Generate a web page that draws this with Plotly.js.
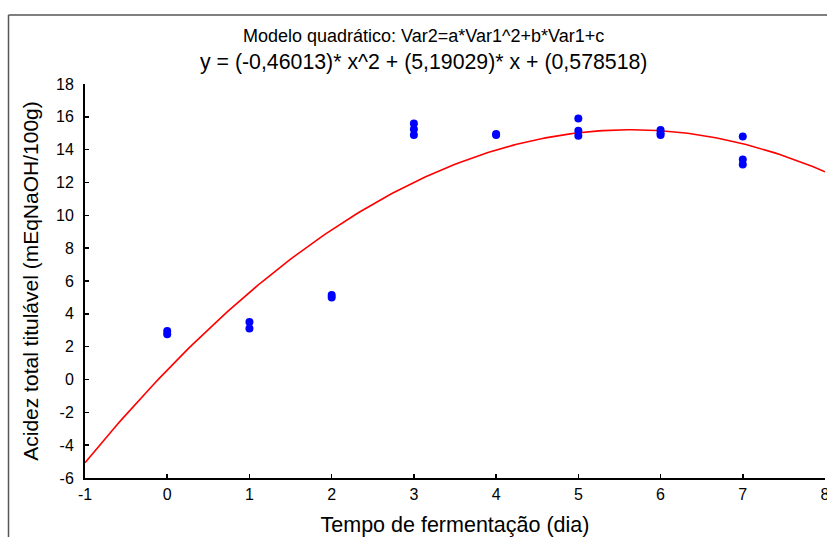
<!DOCTYPE html>
<html>
<head>
<meta charset="utf-8">
<script src="https://cdn.plot.ly/plotly-3.0.1.min.js"></script>
<style>html,body{margin:0;padding:0;background:#fff;}#chart{width:827px;height:537px;}</style>
</head>
<body>
<div id="chart"></div>
<script>
// Observed data (day, acidity)
var days    = [0, 0, 1, 1, 2, 2, 3, 3, 3, 4, 4, 5, 5, 5, 6, 6, 6, 7, 7, 7];
var acidity = [2.95, 2.75, 3.5, 3.1, 5.15, 5.0, 15.6, 15.25, 14.9, 14.95, 14.9, 15.9, 15.15, 14.85, 15.2, 15.0, 14.9, 14.8, 13.4, 13.1];
// Quadratic model coefficients
var coefA = -0.46013, coefB = 5.19029, coefC = 0.578518;
var xTicks = [-1, 0, 1, 2, 3, 4, 5, 6, 7, 8];
var yTicks = [-6, -4, -2, 0, 2, 4, 6, 8, 10, 12, 14, 16, 18];

var fitX = [], fitY = [];
for (var i = 0; i <= 180; i++) {
  var x = -1 + i * 9 / 180;
  fitX.push(x);
  fitY.push(coefA * x * x + coefB * x + coefC);
}

var traces = [
  {x: fitX, y: fitY, mode: 'lines', line: {color: '#ff0000', width: 1.6}, hoverinfo: 'skip'},
  {x: days, y: acidity, mode: 'markers', marker: {color: '#0000ff', size: 8}, cliponaxis: false}
];

var fam = 'Liberation Sans, Arial, sans-serif';
var axisFont = {family: fam, size: 16, color: '#000'};
var layout = {
  width: 827, height: 537,
  margin: {l: 85, r: 2, t: 84, b: 59},
  paper_bgcolor: '#fff', plot_bgcolor: '#fff',
  showlegend: false,
  xaxis: {
    range: [-1, 8], tickvals: xTicks, ticktext: xTicks.map(String),
    showgrid: false, zeroline: false, showline: true, linecolor: '#000', linewidth: 2,
    ticks: 'inside', ticklen: 4, tickwidth: 1.5, tickcolor: '#000',
    tickfont: axisFont, ticklabeloverflow: 'allow', ticklabelstandoff: 1,
    title: {text: 'Tempo de fermentação (dia)', font: {family: fam, size: 21.5, color: '#000'}, standoff: 17}
  },
  yaxis: {
    range: [-6, 18], tickvals: yTicks, ticktext: yTicks.map(String),
    showgrid: false, zeroline: false, showline: true, linecolor: '#000', linewidth: 2,
    ticks: 'inside', ticklen: 4, tickwidth: 1.5, tickcolor: '#000',
    tickfont: axisFont, ticklabeloverflow: 'allow', ticklabelstandoff: 6,
    title: {text: 'Acidez total titulável (mEqNaOH/100g)', font: {family: fam, size: 21, color: '#000'}, standoff: 12}
  },
  annotations: [
    {text: 'Modelo quadrático: Var2=a*Var1^2+b*Var1+c', xref: 'paper', yref: 'paper',
     x: 0.458, y: (478 - 36) / 394, xanchor: 'center', yanchor: 'middle', showarrow: false,
     font: {family: fam, size: 18, color: '#000'}},
    {text: 'y = (-0,46013)* x^2 + (5,19029)* x + (0,578518)', xref: 'paper', yref: 'paper',
     x: 0.458, y: (478 - 62) / 394, xanchor: 'center', yanchor: 'middle', showarrow: false,
     font: {family: fam, size: 21.3, color: '#000'}}
  ],
  shapes: [
    {type: 'line', xref: 'paper', yref: 'paper', x0: (8.5 - 85) / 740, x1: (8.5 - 85) / 740, y0: (478 - 15) / 394, y1: (478 - 540) / 394, line: {color: '#555', width: 1.5}},
    {type: 'line', xref: 'paper', yref: 'paper', x0: (8.5 - 85) / 740, x1: (830 - 85) / 740, y0: (478 - 15) / 394, y1: (478 - 15) / 394, line: {color: '#555', width: 1.5}}
  ]
};

Plotly.newPlot('chart', traces, layout, {displayModeBar: false, staticPlot: true});
</script>
</body>
</html>
